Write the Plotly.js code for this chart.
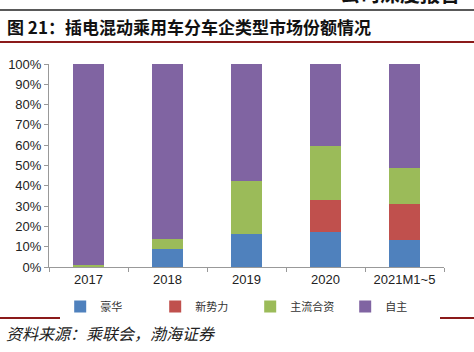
<!DOCTYPE html>
<html><head><meta charset="utf-8">
<script src="https://cdn.plot.ly/plotly-3.0.1.min.js"></script>
<style>html,body{margin:0;padding:0;background:#fff}#chart{width:474px;height:352px}</style>
</head><body><div id="chart"></div>
<script>
const categories = ['2017','2018','2019','2020','2021M1~5'];
const seriesNames = ['豪华','新势力','主流合资','自主'];
const luxury = [0, 9, 16.4, 17.2, 13.5];
const newForces = [0, 0, 0, 15.8, 17.7];
const jointVenture = [1, 5, 26.1, 26.8, 17.4];
const domestic = [99, 86, 57.5, 40.2, 51.4];
const colors = ['#4F81BD','#C0504D','#9BBB59','#8064A2'];

const values = [luxury, newForces, jointVenture, domestic];
const traces = values.map((v,i)=>({
  type:'bar', x:categories, y:v, name:seriesNames[i],
  marker:{color:colors[i]}, hoverinfo:'skip'
}));
const cjk = '"Noto Sans CJK SC", sans-serif';
const H = 203, B = 85;
const py = px => (352 - px - B) / H;
const layout = {
  width:474, height:352,
  margin:{l:49, r:30, t:64, b:85, autoexpand:false},
  barmode:'stack', bargap:0.6,
  paper_bgcolor:'#fff', plot_bgcolor:'#fff',
  font:{family:'"Liberation Sans", Arial, sans-serif', size:13, color:'#222'},
  xaxis:{type:'category', showline:true, linecolor:'#999', linewidth:1,
    ticks:'outside', tickson:'boundaries', ticklen:4, tickcolor:'#999',
    showgrid:false, tickfont:{size:13, color:'#222'}},
  yaxis:{range:[0,100], dtick:10, ticksuffix:'%', showline:true, linecolor:'#999',
    ticks:'outside', ticklen:4, tickcolor:'#999', showgrid:false, zeroline:false,
    tickfont:{size:13, color:'#222'}},
  showlegend:true,
  legend:{orientation:'h', xref:'container', x:0.127, xanchor:'left',
    yref:'container', y:(352-292)/352, yanchor:'top',
    entrywidth:50, font:{family:cjk, size:11, color:'#333'}, itemwidth:30,
    traceorder:'normal', tracegroupgap:0},
  shapes:[
    {type:'line', xref:'paper', yref:'paper', x0:-0.2, x1:1.2, y0:py(10), y1:py(10), line:{color:'#222', width:1.5}},
    {type:'line', xref:'paper', yref:'paper', x0:-0.2, x1:1.2, y0:py(42), y1:py(42), line:{color:'#8B1A1A', width:2}},
    {type:'line', xref:'paper', yref:'paper', x0:-0.2, x1:1.2, y0:py(318), y1:py(318), line:{color:'#8B1A1A', width:2}}
  ],
  annotations:[
    {text:'<b>图 21：插电混动乘用车分车企类型市场份额情况</b>', xref:'paper', yref:'paper',
     x:-49/395, xanchor:'left', y:py(26), yanchor:'middle', showarrow:false,
     font:{family:cjk, size:17, color:'#111'}, xshift:5},
    {text:'<i>资料来源：乘联会，渤海证券</i>', xref:'paper', yref:'paper',
     x:-49/395, xanchor:'left', y:py(333), yanchor:'middle', showarrow:false,
     font:{family:cjk, size:16, color:'#222'}, xshift:4},
    {text:'<b>公司深度报告</b>', xref:'paper', yref:'paper',
     x:1+30/395, xanchor:'right', y:py(-7), yanchor:'middle', showarrow:false,
     font:{family:cjk, size:20, color:'#111'}, xshift:-12}
  ]
};
Plotly.newPlot('chart', traces, layout, {displayModeBar:false, staticPlot:true});
</script></body></html>
